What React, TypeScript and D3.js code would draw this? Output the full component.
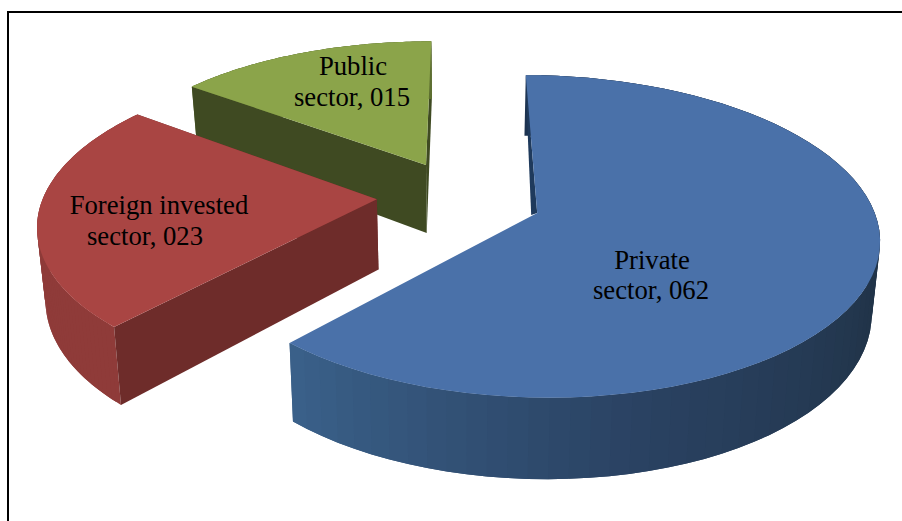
import React from 'react';
import * as d3 from 'd3';

const width = 902;
const height = 521;

const heads = ['Private', 'Foreign invested', 'Public'];
const values = [62, 23, 15];

const topColors = ['#4a71a9', '#a94543', '#8ba44a'];
const wallColors = ['#1f3a5c', '#6e2c2a', '#3f4a22'];
// rim shading, from the start of each slice's sweep to its end
const rimColors = [
    ['#1d3350', '#1f2f47', '#213449', '#2a4262', '#3a6089'],
    ['#8f3b39', '#8f3b39'],
    ['#5d6f30', '#5d6f30'],
];
const labelPos = [
    [[652, 269], [651, 299]],
    [[159, 214], [145, 245]],
    [[353, 75], [352, 106]],
];

// projection of the tilted pie
const cx = 460;
const cy = 198.5;
const radius = 333;
const tilt = 157;
const persp = 0.15;
const explode = [0.246, 0.25, 0.232];
const lift = [0, 3, 2];
const depth = 70;
const bottomShrink = 0.98;

type Pt = [number, number];

const project = (u: number, v: number, low: boolean, up: number): Pt => {
    const w = 1 + persp * v;
    return [
        cx + radius * u * w * (low ? bottomShrink : 1),
        cy + tilt * v * w + (low ? depth * w : 0) - up,
    ];
};

const line = d3.line<Pt>().curve(d3.curveLinear);
const sector = d3.pie<number>().sort(null).startAngle(0).endAngle(2 * Math.PI)(values);

function Slice({index}: {index: number}) {
    const {startAngle, endAngle} = sector[index];
    const mid = (startAngle + endAngle) / 2;
    const ax = explode[index] * Math.sin(mid);
    const ay = -explode[index] * Math.cos(mid);
    const rimPt = (a: number, low: boolean) => project(ax + Math.sin(a), ay - Math.cos(a), low, lift[index]);
    const apex = (low: boolean) => project(ax, ay, low, lift[index]);

    const steps = d3.range(0, 73).map(i => startAngle + (endAngle - startAngle) * i / 72);
    const rimScale = d3.scaleLinear<string>()
        .domain(rimColors[index].map((_, i) => i / (rimColors[index].length - 1)))
        .range(rimColors[index]);

    const edgeWall = (a: number) => [apex(false), rimPt(a, false), rimPt(a, true), apex(true)] as Pt[];
    const topFace: Pt[] = [apex(false), ...steps.map(a => rimPt(a, false))];

    // the private slice shows a thin sliver of its start wall beside the top face
    const [tipX, tipY] = rimPt(startAngle, false);
    const [apexX, apexY] = apex(false);
    const sliver: Pt[] = [[tipX, tipY], [apexX, apexY], [apexX - 6, apexY + 2], [tipX + 2, tipY + 60]];

    return (
        <g>
            {index !== 0 && <path d={line(edgeWall(endAngle)) + 'Z'} fill={wallColors[index]}/>}
            {steps.slice(0, -1).map((a, i) => {
                // each band runs on under the next one, so no seams show
                const run = steps.slice(i, i + 3);
                const quad = [...run.map(s => rimPt(s, false)), ...run.reverse().map(s => rimPt(s, true))] as Pt[];
                return <path key={i} d={line(quad) + 'Z'} fill={rimScale(i / 71)}/>;
            })}
            {index !== 0 && <path d={line(edgeWall(startAngle)) + 'Z'} fill={wallColors[index]}/>}
            {index === 0 && <path d={line(sliver) + 'Z'} fill={wallColors[0]}/>}
            <path d={line(topFace) + 'Z'} fill={topColors[index]}/>
        </g>
    );
}

export default function App() {
    const tail = d3.format('03d');
    return (
        <svg width={width} height={height} style={{position: 'absolute', left: 0, top: 0, display: 'block'}}>
            <rect width={width} height={height} fill="#ffffff"/>
            <line x1={8} x2={width} y1={12} y2={12} stroke="#000" strokeWidth={2}/>
            <line x1={8} x2={8} y1={11} y2={height} stroke="#000" strokeWidth={2}/>
            {/* back to front */}
            <Slice index={2}/>
            <Slice index={1}/>
            <Slice index={0}/>
            {heads.map((h, i) => (
                <g key={h} fontFamily="Liberation Serif" fontSize={26.7} textAnchor="middle" fill="#000">
                    <text x={labelPos[i][0][0]} y={labelPos[i][0][1]}>{h}</text>
                    <text x={labelPos[i][1][0]} y={labelPos[i][1][1]}>{`sector, ${tail(values[i])}`}</text>
                </g>
            ))}
        </svg>
    );
}
